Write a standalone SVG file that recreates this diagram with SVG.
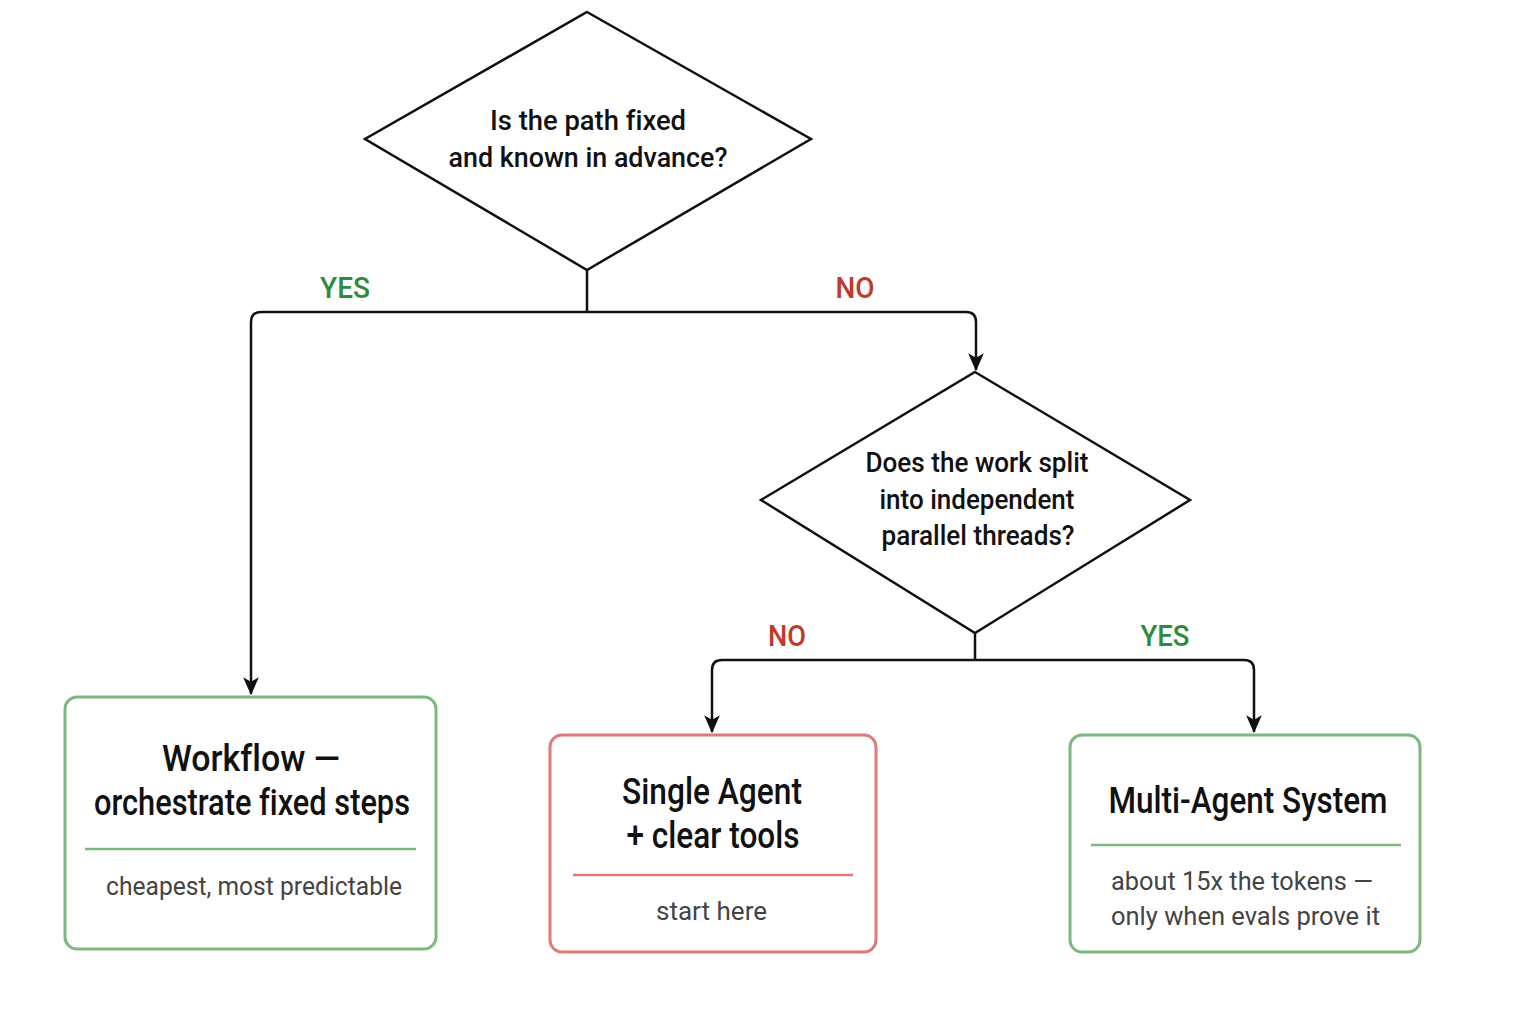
<svg xmlns="http://www.w3.org/2000/svg" width="1536" height="1024" viewBox="0 0 1536 1024">
<defs>
<style>
text{font-variant-ligatures:none}
.dia{fill:#fff;stroke:#111;stroke-width:2.5;stroke-linejoin:miter}
.q{font-family:Roboto,"Liberation Sans",sans-serif;font-weight:500;font-size:27px;fill:#111;text-anchor:middle}
.lbl{font-family:Roboto,"Liberation Sans",sans-serif;font-weight:500;font-size:29px;text-anchor:middle}
.yes{fill:#2e8b3e}
.no{fill:#c0392b}
.conn{fill:none;stroke:#111;stroke-width:2.5}
.g{fill:#fff;stroke:#7cb87f;stroke-width:3}
.r{fill:#fff;stroke:#e07a7a;stroke-width:3}
.gl{stroke:#7cb87f;stroke-width:2.5}
.rl{stroke:#e07a7a;stroke-width:2.5}
.t{font-family:Roboto,"Liberation Sans",sans-serif;font-weight:500;font-size:37px;fill:#111;text-anchor:middle}
.s{font-family:Roboto,"Liberation Sans",sans-serif;font-weight:400;font-size:26px;fill:#444}
</style>
<marker id="ah" viewBox="0 0 16 16" refX="15" refY="8" markerWidth="18" markerHeight="18" markerUnits="userSpaceOnUse" orient="auto">
<path d="M0,1 L16,8 L0,15 L4,8 z" fill="#111"/>
</marker>
</defs>
<rect width="1536" height="1024" fill="#fff"/>

<g id="connectors">
<path class="conn" d="M587,270 V312"/>
<path class="conn" d="M587,312 H261 Q251,312 251,322 V694" marker-end="url(#ah)"/>
<path class="conn" d="M587,312 H966 Q976,312 976,322 V370" marker-end="url(#ah)"/>
<path class="conn" d="M975,633 V660"/>
<path class="conn" d="M975,660 H722 Q712,660 712,670 V732" marker-end="url(#ah)"/>
<path class="conn" d="M975,660 H1244 Q1254,660 1254,670 V732" marker-end="url(#ah)"/>
<text class="lbl yes" x="345" y="298" textLength="50" lengthAdjust="spacingAndGlyphs">YES</text>
<text class="lbl no" x="855" y="298" textLength="39" lengthAdjust="spacingAndGlyphs">NO</text>
<text class="lbl no" x="787" y="646" textLength="38" lengthAdjust="spacingAndGlyphs">NO</text>
<text class="lbl yes" x="1165" y="646" textLength="49" lengthAdjust="spacingAndGlyphs">YES</text>
</g>

<g id="q1">
<polygon class="dia" points="587,12 811,139 587,270 365,139"/>
<text class="q" x="588" y="130" textLength="196" lengthAdjust="spacingAndGlyphs">Is the path fixed</text>
<text class="q" x="588" y="167" textLength="279" lengthAdjust="spacingAndGlyphs">and known in advance?</text>
</g>

<g id="q2">
<polygon class="dia" points="975,372 1190,500 975,633 761,500"/>
<text class="q" x="977" y="472" textLength="223" lengthAdjust="spacingAndGlyphs">Does the work split</text>
<text class="q" x="977" y="509" textLength="195" lengthAdjust="spacingAndGlyphs">into independent</text>
<text class="q" x="978" y="545" textLength="193" lengthAdjust="spacingAndGlyphs">parallel threads?</text>
</g>

<g id="workflow">
<rect class="g" x="65" y="697" width="371" height="252" rx="12"/>
<text class="t" x="251" y="771" textLength="178" lengthAdjust="spacingAndGlyphs">Workflow —</text>
<text class="t" x="252" y="815" textLength="316" lengthAdjust="spacingAndGlyphs">orchestrate fixed steps</text>
<line class="gl" x1="85" y1="849" x2="416" y2="849"/>
<text class="s" x="106" y="895" textLength="296" lengthAdjust="spacingAndGlyphs">cheapest, most predictable</text>
</g>

<g id="single">
<rect class="r" x="550" y="735" width="326" height="217" rx="12"/>
<text class="t" x="712" y="804" textLength="180" lengthAdjust="spacingAndGlyphs">Single Agent</text>
<text class="t" x="713" y="848" textLength="173" lengthAdjust="spacingAndGlyphs">+ clear tools</text>
<line class="rl" x1="573" y1="875" x2="853" y2="875"/>
<text class="s" x="656" y="920" textLength="111" lengthAdjust="spacingAndGlyphs">start here</text>
</g>

<g id="multi">
<rect class="g" x="1070" y="735" width="350" height="217" rx="12"/>
<text class="t" x="1248" y="813" textLength="279" lengthAdjust="spacingAndGlyphs">Multi-Agent System</text>
<line class="gl" x1="1091" y1="845" x2="1401" y2="845"/>
<text class="s" x="1111" y="890" textLength="262" lengthAdjust="spacingAndGlyphs">about 15x the tokens —</text>
<text class="s" x="1111" y="925" textLength="269" lengthAdjust="spacingAndGlyphs">only when evals prove it</text>
</g>
</svg>
